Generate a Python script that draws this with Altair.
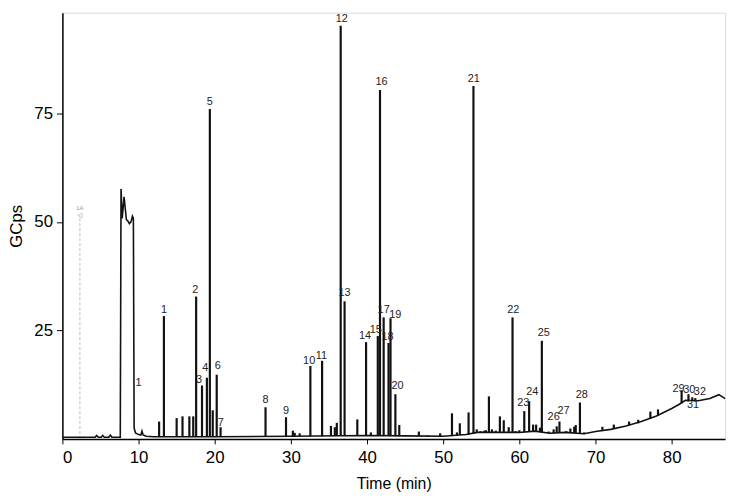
import altair as alt
import pandas as pd

# Baseline trace (time in min, signal in GCps), incl. solvent hump
base_t = [0.0, 4.3, 4.5, 4.7, 5.1, 5.3, 5.5, 6.1, 6.3, 6.5, 7.6, 7.7, 7.85, 8.1, 8.4, 8.6, 8.8, 9.0, 9.2, 9.32,
          9.42, 9.6, 10.0, 10.3, 10.45, 10.6, 11.0, 12.0, 20.0, 30.0, 40.0, 45.0, 50.0, 53.0, 54.5, 58.0, 60.0,
          62.0, 64.0, 66.0, 68.5, 70.0, 72.0, 74.0, 76.0, 78.0, 80.0, 81.0, 81.8, 83.5, 85.0, 86.2, 87.0]
base_v = [0.4, 0.4, 0.8, 0.4, 0.4, 0.8, 0.4, 0.4, 0.9, 0.4, 0.4, 57.6, 50.8, 55.8, 50.5, 50.2, 49.6, 50.0, 51.3, 50.8,
          2.5, 1.4, 1.0, 0.9, 1.8, 0.9, 0.6, 0.5, 0.5, 0.6, 0.8, 0.7, 0.6, 1.0, 1.5, 1.5, 1.5,
          1.8, 1.3, 1.5, 1.2, 1.7, 2.2, 3.0, 4.0, 5.3, 7.0, 8.0, 8.9, 8.8, 9.3, 10.2, 9.3]

# Peaks: retention time, apex height, local baseline
peak_t = [12.7, 13.33, 15.0, 15.77, 16.67, 17.18, 17.56, 18.33, 18.97, 19.36, 19.74, 20.26, 20.77,
          26.67, 29.36, 30.26, 30.5, 31.15, 32.56, 34.1, 35.26, 35.77, 36.03, 36.54, 37.05, 38.72, 39.87,
          40.5, 41.41, 41.7, 42.18, 42.82, 43.08, 43.72, 44.23, 45.26, 46.8, 47.95, 49.6, 51.15, 51.8, 52.18,
          53.33, 53.97, 54.4, 54.9, 55.4, 55.6, 56.0, 56.4, 56.9, 57.44, 57.95, 58.6, 59.1, 59.5, 60.0,
          60.64, 61.28, 61.8, 62.2, 62.7, 62.95, 63.85, 64.5, 64.9, 65.26, 66.15, 66.7, 67.2, 67.4, 67.95,
          68.5, 70.9, 72.4, 74.4, 75.6, 77.2, 78.2, 81.3, 82.2, 82.7, 83.1]
peak_v = [4.0, 28.3, 4.8, 5.2, 5.2, 5.2, 32.8, 12.3, 14.1, 76.0, 6.6, 14.8, 2.7,
          7.3, 5.0, 1.9, 1.4, 1.3, 16.8, 18.0, 3.0, 2.7, 3.7, 95.2, 31.7, 4.5, 22.3,
          1.5, 23.7, 80.4, 28.0, 22.1, 27.8, 10.3, 3.2, 0.9, 1.7, 0.8, 1.3, 5.9, 1.5, 3.6,
          6.1, 81.3, 2.2, 1.8, 1.9, 2.0, 9.8, 2.2, 1.9, 5.2, 4.3, 2.7, 28.0, 1.8, 2.0,
          6.4, 8.7, 3.3, 3.3, 2.6, 22.6, 1.7, 2.2, 2.9, 4.0, 1.8, 2.4, 2.8, 3.2, 8.4,
          1.5, 2.8, 3.3, 4.0, 4.4, 6.3, 6.8, 11.2, 10.3, 9.6, 9.4]
peak_b = [0.5, 0.5, 0.5, 0.5, 0.5, 0.5, 0.5, 0.5, 0.5, 0.5, 0.5, 0.5, 0.5,
          0.5, 0.6, 0.6, 0.6, 0.6, 0.6, 0.6, 0.7, 0.7, 0.7, 0.7, 0.7, 0.8, 0.8,
          0.8, 0.8, 0.8, 0.8, 0.8, 0.8, 0.8, 0.7, 0.7, 0.7, 0.6, 0.6, 0.8, 0.8, 0.9,
          1.0, 1.2, 1.5, 1.5, 1.5, 1.5, 1.5, 1.5, 1.5, 1.5, 1.5, 1.5, 1.5, 1.5, 1.5,
          1.6, 1.6, 1.7, 1.8, 1.6, 1.5, 1.3, 1.3, 1.4, 1.4, 1.5, 1.5, 1.4, 1.4, 1.3,
          1.2, 1.9, 2.4, 3.2, 3.6, 4.6, 5.3, 8.2, 8.8, 8.8, 8.8]

# Peak labels
lab_text = ["1", "1", "2", "3", "4", "5", "6", "7", "8", "9", "10", "11", "12", "13", "14", "15", "16",
            "17", "18", "19", "20", "21", "22", "23", "24", "25", "26", "27", "28", "29", "30", "31", "32"]
lab_t = [10.0, 13.33, 17.44, 17.95, 18.75, 19.36, 20.4, 20.8, 26.67, 29.36, 32.4, 34.0, 36.67, 37.05, 39.74,
         41.15, 41.9, 42.18, 42.7, 43.7, 44.0, 54.0, 59.2, 60.5, 61.7, 63.2, 64.5, 65.8, 68.2, 80.9, 82.3,
         82.8, 83.7]
lab_v = [12.8, 29.8, 34.2, 13.6, 16.3, 77.7, 16.9, 3.6, 8.9, 6.4, 18.0, 19.1, 96.8, 33.5, 23.7,
         25.1, 82.2, 29.6, 23.5, 28.5, 12.1, 82.9, 29.6, 8.2, 10.9, 24.4, 5.0, 6.4, 10.0, 11.4, 11.2,
         7.7, 10.7]

# Injection marker 1A
marker_t = [2.3]
marker_v = [51.5]
marker_text = ["1A"]

base_df = pd.DataFrame({"t": base_t, "v": base_v})
peak_df = pd.DataFrame({"t": peak_t, "v": peak_v, "b": peak_b})
lab_df = pd.DataFrame({"t": lab_t, "v": lab_v, "text": lab_text})
mark_df = pd.DataFrame({"t": marker_t, "v": marker_v, "text": marker_text, "b": [0.0]})

FONT = "Liberation Sans"
xs = alt.Scale(domain=[0, 87], nice=False, zero=False)
ys = alt.Scale(domain=[0, 98.2], nice=False)

x_axis = alt.Axis(values=[0, 10, 20, 30, 40, 50, 60, 70, 80], title="Time (min)", grid=False,
                  tickSize=5, labelPadding=6, labelFontSize=17, titleFontSize=16, titlePadding=10,
                  labelFont=FONT, titleFont=FONT, labelColor="black", titleColor="black",
                  titleFontWeight="normal", domainColor="black", tickColor="black", domainWidth=1.5)
y_axis = alt.Axis(values=[25, 50, 75], title="GCps", grid=False, tickSize=6, labelPadding=4,
                  labelFontSize=17, titleFontSize=17, titlePadding=8, labelFont=FONT, titleFont=FONT,
                  labelColor="black", titleColor="black", titleFontWeight="normal",
                  domainColor="black", tickColor="black", domainWidth=1.5)

baseline = alt.Chart(base_df).mark_line(color="#111", strokeWidth=1.6).encode(
    x=alt.X("t:Q", scale=xs, axis=x_axis),
    y=alt.Y("v:Q", scale=ys, axis=y_axis),
    order="t:Q",
)

peaks = alt.Chart(peak_df).mark_rule(color="#111", strokeWidth=2.2).encode(
    x=alt.X("t:Q", scale=xs),
    y=alt.Y("b:Q", scale=ys),
    y2="v:Q",
)

labels = alt.Chart(lab_df).mark_text(font=FONT, fontSize=11, color="#222", baseline="middle",
                                     align="center").encode(
    x=alt.X("t:Q", scale=xs),
    y=alt.Y("v:Q", scale=ys),
    text="text:N",
)

marker_line = alt.Chart(mark_df).mark_rule(color="#bbb", strokeWidth=1, strokeDash=[3, 2]).encode(
    x=alt.X("t:Q", scale=xs),
    y=alt.Y("b:Q", scale=ys),
    y2="v:Q",
)
marker_pt = alt.Chart(mark_df).mark_point(shape="triangle-left", color="#aaa", size=25, filled=False,
                                          strokeWidth=0.8).encode(
    x=alt.X("t:Q", scale=xs),
    y=alt.Y("v:Q", scale=ys),
)
marker_txt = alt.Chart(mark_df).mark_text(font=FONT, fontSize=6, color="#999", dy=-7).encode(
    x=alt.X("t:Q", scale=xs),
    y=alt.Y("v:Q", scale=ys),
    text="text:N",
)

chart = alt.layer(marker_line, marker_pt, marker_txt, baseline, peaks, labels).properties(
    width=670, height=431,
    autosize=alt.AutoSizeParams(type="none"),
    padding={"left": 55, "top": 2, "right": 2, "bottom": 56},
).configure_view(stroke="black", strokeWidth=1.5).configure(background="white")

chart.save("out.html", embed_options={"renderer": "svg", "actions": False})
